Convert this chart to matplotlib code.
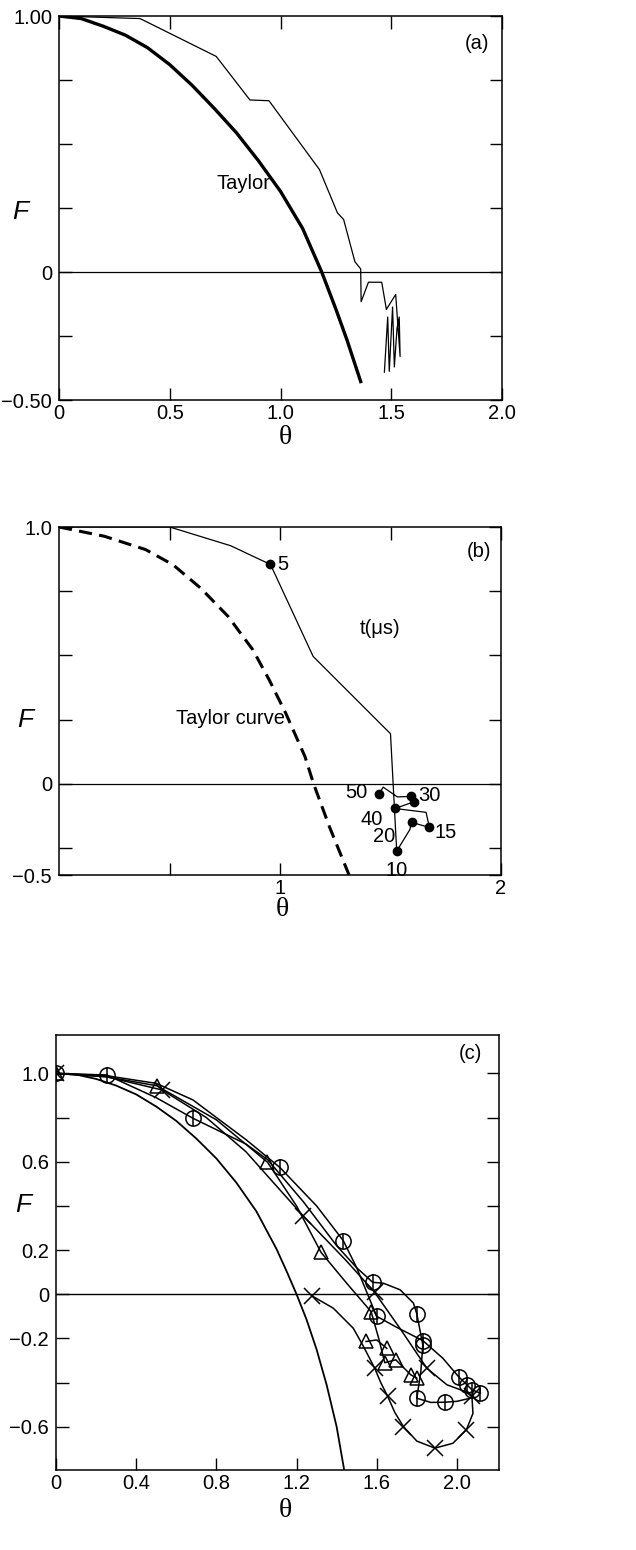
import matplotlib.pyplot as plt

plt.rcParams['font.family'] = ['Liberation Sans', 'DejaVu Sans']
plt.rcParams['axes.linewidth'] = 1.1

# ---- panel (a) ----
theta_taylor_a = [0, 0.1, 0.2, 0.3, 0.4, 0.5, 0.6, 0.7, 0.8, 0.9, 1.0, 1.1, 1.186, 1.25, 1.3, 1.362]
F_taylor_a = [1.0, 0.99, 0.96, 0.925, 0.876, 0.81, 0.73, 0.64, 0.545, 0.435, 0.315, 0.17, 0.0, -0.145, -0.265, -0.428]

theta_sim_a = [0, 0.366, 0.71, 0.862, 0.948, 1.176, 1.257, 1.285, 1.336, 1.362, 1.364, 1.397,
               1.457, 1.478, 1.520, 1.540, 1.536, 1.526, 1.514, 1.506, 1.491, 1.484, 1.469]
F_sim_a = [1.0, 0.99, 0.842, 0.672, 0.669, 0.40, 0.231, 0.205, 0.040, 0.012, -0.116, -0.040,
           -0.040, -0.146, -0.088, -0.33, -0.176, -0.22, -0.371, -0.137, -0.388, -0.176, -0.391]

# ---- panel (b) ----
theta_taylor_b = [0, 0.205, 0.392, 0.516, 0.641, 0.765, 0.877, 0.951, 1.026, 1.113, 1.152, 1.225, 1.312]
F_taylor_b = [1.0, 0.964, 0.912, 0.853, 0.762, 0.652, 0.522, 0.405, 0.275, 0.106, 0.0, -0.17, -0.354]

theta_sim_b = [0, 0.501, 0.777, 0.957, 1.150, 1.500, 1.528, 1.587, 1.596, 1.676, 1.661, 1.520,
               1.606, 1.594, 1.531, 1.467, 1.448]
F_sim_b = [1.0, 1.0, 0.927, 0.854, 0.496, 0.195, -0.262, -0.179, -0.150, -0.170, -0.111, -0.096,
           -0.070, -0.049, -0.051, -0.013, -0.038]

t_labels = ['5', '10', '15', '20', '', '30', '40', '50']
theta_dots = [0.957, 1.528, 1.676, 1.596, 1.606, 1.594, 1.520, 1.448]
F_dots = [0.854, -0.262, -0.170, -0.150, -0.070, -0.049, -0.096, -0.038]
dot_offsets = [(5, 0, 'left', 'center'), (0, -7, 'center', 'top'), (3.5, -3.5, 'left', 'center'),
               (-12, -10, 'right', 'center'), (0, 0, 'left', 'center'), (5, 1, 'left', 'center'),
               (-8.5, -8, 'right', 'center'), (-8, 1, 'right', 'center')]

# ---- panel (c) ----
theta_taylor_c = [0, 0.1, 0.2, 0.3, 0.4, 0.5, 0.6, 0.7, 0.8, 0.9, 1.0, 1.1, 1.15, 1.2,
                  1.25, 1.3, 1.35, 1.4, 1.45]
F_taylor_c = [1.0, 0.995, 0.975, 0.945, 0.905, 0.85, 0.785, 0.705, 0.615, 0.505, 0.375, 0.205,
              0.105, 0.0, -0.115, -0.25, -0.41, -0.6, -0.86]

# crosses: drawn curve and the marked points on it
theta_x_path = [0, 0.25, 0.53, 0.75, 0.948, 1.1, 1.233, 1.45, 1.59, 1.72, 1.85, 1.95, 2.04, 2.075,
                2.08, 2.047, 1.98, 1.89, 1.80, 1.733, 1.69, 1.655, 1.62, 1.59, 1.53, 1.483, 1.383, 1.278]
F_x_path = [1.0, 0.985, 0.925, 0.80, 0.645, 0.49, 0.355, 0.15, 0.008, -0.16, -0.335, -0.41, -0.44,
            -0.463, -0.54, -0.614, -0.675, -0.697, -0.665, -0.599, -0.535, -0.463, -0.40, -0.335,
            -0.23, -0.154, -0.063, -0.008]
theta_x = [0, 0.53, 1.233, 1.59, 1.85, 2.075, 2.047, 1.89, 1.733, 1.655, 1.59, 1.278]
F_x = [1.0, 0.925, 0.355, 0.008, -0.335, -0.463, -0.614, -0.697, -0.599, -0.463, -0.335, -0.008]

# circles, upper curve
theta_ca_path = [0, 0.25, 0.5, 0.683, 0.948, 1.117, 1.3, 1.433, 1.5, 1.55, 1.6, 1.7, 1.83, 1.93,
                 2.008, 2.05, 2.075, 2.117]
F_ca_path = [1.0, 0.99, 0.955, 0.88, 0.70, 0.574, 0.40, 0.243, 0.12, 0.01, -0.10, -0.15, -0.21,
             -0.29, -0.373, -0.41, -0.433, -0.448]
theta_ca = [0, 1.117, 1.433, 1.6, 1.83, 2.008, 2.05, 2.075, 2.117]
F_ca = [1.0, 0.574, 0.243, -0.10, -0.21, -0.373, -0.41, -0.433, -0.448]

# circles, second curve
theta_cb_path = [0, 0.253, 0.5, 0.683, 0.948, 1.055, 1.233, 1.4, 1.5, 1.58, 1.633, 1.717, 1.783,
                 1.8, 1.83, 1.82, 1.8, 1.87, 1.94, 2.0, 2.07]
F_cb_path = [1.0, 0.993, 0.89, 0.797, 0.68, 0.61, 0.42, 0.22, 0.12, 0.054, 0.05, 0.02, -0.04,
             -0.089, -0.23, -0.35, -0.471, -0.49, -0.489, -0.485, -0.47]
theta_cb = [0.253, 0.683, 1.58, 1.8, 1.83, 1.8, 1.94]
F_cb = [0.993, 0.797, 0.054, -0.089, -0.23, -0.471, -0.489]

# triangles
theta_tri_path = [0, 0.25, 0.503, 0.8, 1.055, 1.2, 1.322, 1.45, 1.572, 1.61, 1.64, 1.695, 1.77, 1.80]
F_tri_path = [1.0, 0.985, 0.944, 0.79, 0.598, 0.40, 0.19, 0.05, -0.079, -0.2, -0.31, -0.297,
              -0.365, -0.38]
theta_tri = [0, 0.503, 1.055, 1.322, 1.572, 1.64, 1.695, 1.77, 1.80]
F_tri = [1.0, 0.944, 0.598, 0.19, -0.079, -0.31, -0.297, -0.365, -0.38]

theta_tri2_path = [1.547, 1.60, 1.65]
F_tri2_path = [-0.214, -0.207, -0.245]
theta_tri2 = [1.547, 1.65]
F_tri2 = [-0.214, -0.245]

fig = plt.figure(figsize=(6.36, 15.5), dpi=100)
tick_kw = dict(direction='in', length=9, width=1.0, labelsize=14.5, top=True, right=True)
txt = 14.5

# (a)
ax1 = fig.add_axes([59 / 636, 1 - 400 / 1550, 443 / 636, 384 / 1550])
ax1.plot(theta_taylor_a, F_taylor_a, color='black', lw=2.4)
ax1.plot(theta_sim_a, F_sim_a, color='black', lw=0.9)
ax1.axhline(0, color='black', lw=0.9)
ax1.set_xlim(0, 2.0)
ax1.set_ylim(-0.5, 1.0)
ax1.set_xticks([0, 0.5, 1.0, 1.5, 2.0])
ax1.set_xticklabels(['0', '0.5', '1.0', '1.5', '2.0'])
ax1.set_yticks([-0.5, -0.25, 0, 0.25, 0.5, 0.75, 1.0])
ax1.set_yticklabels(['\u22120.50', '', '0', '', '', '', '1.00'])
ax1.text(0.71, 0.345, 'Taylor', fontsize=txt, va='center')
ax1.text(1.833, 0.893, '(a)', fontsize=txt, va='center')

# (b)
ax2 = fig.add_axes([59 / 636, 1 - 875 / 1550, 442 / 636, 348 / 1550])
ax2.plot(theta_taylor_b, F_taylor_b, color='black', lw=2.2, dashes=(4.3, 2.4))
ax2.plot(theta_sim_b, F_sim_b, color='black', lw=0.9)
ax2.plot(theta_dots, F_dots, 'o', color='black', ms=6)
for lab, x, y, (dx, dy, ha, va) in zip(t_labels, theta_dots, F_dots, dot_offsets):
    if lab:
        ax2.annotate(lab, (x, y), xytext=(dx, dy), textcoords='offset points',
                     ha=ha, va=va, fontsize=txt)
ax2.axhline(0, color='black', lw=0.9)
ax2.set_xlim(0, 2.0)
ax2.set_ylim(-0.355, 1.0)
ax2.set_xticks([0.5, 1.0, 1.5, 2.0])
ax2.set_xticklabels(['', '1', '', '2'])
ax2.set_yticks([-0.355, -0.25, 0, 0.25, 0.5, 0.75, 1.0])
ax2.set_yticklabels(['\u22120.5', '', '0', '', '', '', '1.0'])
ax2.text(0.53, 0.256, 'Taylor curve', fontsize=txt, va='center')
ax2.text(1.36, 0.606, 't(\u03bcs)', fontsize=txt, va='center')
ax2.text(1.845, 0.903, '(b)', fontsize=txt, va='center')

# (c)
ax3 = fig.add_axes([56 / 636, 1 - 1470 / 1550, 443 / 636, 435 / 1550])
ax3.plot(theta_taylor_c, F_taylor_c, color='black', lw=1.3)
line_kw = dict(color='black', lw=1.1)
mark_kw = dict(ls='none', color='black', mfc='none', mew=1.1)
ax3.plot(theta_x_path, F_x_path, **line_kw)
ax3.plot(theta_x, F_x, marker='x', ms=12, **mark_kw)
ax3.plot(theta_ca_path, F_ca_path, **line_kw)
ax3.plot(theta_cb_path, F_cb_path, **line_kw)
for th, ff in ((theta_ca, F_ca), (theta_cb, F_cb)):
    ax3.plot(th, ff, marker='o', ms=11, **mark_kw)
    ax3.plot(th, ff, marker='|', ms=11, **mark_kw)
ax3.plot(theta_tri_path, F_tri_path, **line_kw)
ax3.plot(theta_tri, F_tri, marker='^', ms=10, **mark_kw)
ax3.plot(theta_tri2_path, F_tri2_path, **line_kw)
ax3.plot(theta_tri2, F_tri2, marker='^', ms=10, **mark_kw)
ax3.axhline(0, color='black', lw=1.0)
ax3.set_xlim(0, 2.21)
ax3.set_ylim(-0.796, 1.174)
ax3.set_xticks([0, 0.4, 0.8, 1.2, 1.6, 2.0])
ax3.set_xticklabels(['0', '0.4', '0.8', '1.2', '1.6', '2.0'])
ax3.set_yticks([-0.6, -0.4, -0.2, 0, 0.2, 0.4, 0.6, 0.8, 1.0])
ax3.set_yticklabels(['\u22120.6', '', '\u22120.2', '0', '0.2', '', '0.6', '', '1.0'])
ax3.text(2.01, 1.09, '(c)', fontsize=txt, va='center')

# axis labels: F on the left, theta underneath; ticks point inwards
label_pos = [(ax1, (0.51, -0.097), (-0.088, 0.49)),
             (ax2, (0.506, -0.098), (-0.077, 0.445)),
             (ax3, (0.517, -0.092), (-0.074, 0.609))]
for ax, xpos, ypos in label_pos:
    ax.tick_params(**dict(tick_kw, top=(ax is not ax3)))
    ax.tick_params(axis='x', pad=3)
    ax.tick_params(axis='y', pad=5)
    ax.set_xlabel('\u03b8', fontsize=20, family='Liberation Serif', va='center')
    ax.xaxis.set_label_coords(*xpos)
    ax.set_ylabel('F', fontsize=19, style='italic', rotation=0, va='center', ha='center')
    ax.yaxis.set_label_coords(*ypos)

fig.savefig('out.png', dpi=100)
